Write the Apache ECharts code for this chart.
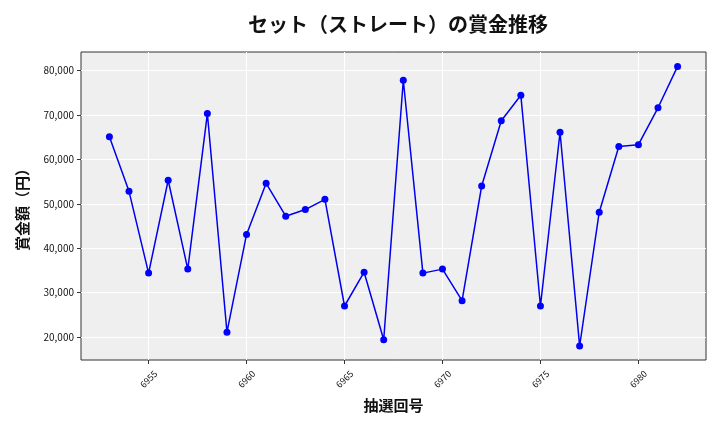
<!DOCTYPE html>
<html><head><meta charset="utf-8">
<script src="https://cdn.jsdelivr.net/npm/echarts@6/dist/echarts.min.js"></script>
<style>html,body{margin:0;padding:0;background:#fff}#c{width:720px;height:432px}</style>
</head><body><div id="c"></div>
<script>
const rounds = [6953,6954,6955,6956,6957,6958,6959,6960,6961,6962,6963,6964,6965,6966,6967,6968,6969,6970,6971,6972,6973,6974,6975,6976,6977,6978,6979,6980,6981,6982];
const prizes = [65100,52800,34400,55300,35300,70300,21100,43100,54600,47200,48700,51000,27000,34600,19400,77800,34400,35300,28200,54000,68700,74400,27000,66100,18000,48100,62900,63300,71600,80900];
const xTicks = [6955,6960,6965,6970,6975,6980];
const yTicks = [20000,30000,40000,50000,60000,70000,80000];
const titleText = 'セット（ストレート）の賞金推移';
const xName = '抽選回号';
const yName = '賞金額（円）';
const font = '"Noto Sans CJK JP","DejaVu Sans",sans-serif';
const chart = echarts.init(document.getElementById('c'), null, {renderer:'canvas'});
chart.setOption({
  animation:false,
  backgroundColor:'#ffffff',
  title:{text:titleText,left:393,textAlign:'center',top:9,textStyle:{fontFamily:font,fontSize:20,fontWeight:'bold',color:'#111'}},
  grid:{left:81,right:14,top:52,bottom:72,show:true,backgroundColor:'#efefef',borderColor:'#333',borderWidth:1},
  xAxis:{type:'value',min:6951.55,max:6983.45,
    name:xName,nameLocation:'middle',nameGap:38,nameTextStyle:{fontFamily:font,fontSize:15,fontWeight:'bold',color:'#111'},
    axisLine:{show:false},axisTick:{show:true,length:4,lineStyle:{color:'#333'},customValues:xTicks},
    axisLabel:{rotate:45,fontSize:9,color:'#111',fontFamily:font,margin:19,align:'center',verticalAlign:'middle',
      customValues:xTicks,formatter:v=>String(v)},
    splitLine:{show:true,lineStyle:{color:'#ffffff',width:1}}},
  yAxis:{type:'value',min:14850,max:84150,
    name:yName,nameLocation:'middle',nameGap:51,nameTextStyle:{fontFamily:font,fontSize:15,fontWeight:'bold',color:'#111'},
    axisLine:{show:false},axisTick:{show:true,length:4,lineStyle:{color:'#333'},customValues:yTicks},
    axisLabel:{fontSize:10,color:'#111',fontFamily:font,margin:7,customValues:yTicks,
      formatter:v=>v.toLocaleString('en-US')},
    splitLine:{show:true,lineStyle:{color:'#ffffff',width:1}}},
  series:[{type:'line',data:rounds.map((r,i)=>[r,prizes[i]]),
    symbol:'circle',symbolSize:7,
    lineStyle:{color:'#0000ee',width:1.5},itemStyle:{color:'#0000ff'}}]
});
</script></body></html>
